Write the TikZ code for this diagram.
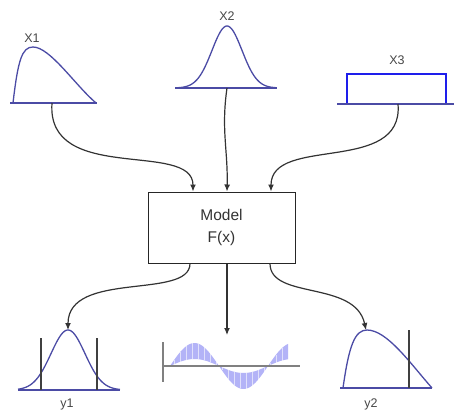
\documentclass[tikz,border=0pt]{standalone}
\usepackage{fontspec}
\setmainfont{Liberation Sans}
\usetikzlibrary{arrows.meta}
\definecolor{distblue}{RGB}{75,75,165}
\definecolor{rectblue}{RGB}{30,30,235}
\definecolor{labelgray}{RGB}{70,70,70}
\definecolor{bandblue}{RGB}{160,160,245}
\tikzset{
  dist/.style={draw=distblue, line width=1.3pt},
  base/.style={draw=distblue, line width=1.5pt},
  conn/.style={draw=black!80, line width=1.2pt, -{Latex[length=7pt,width=6pt]}},
  lbl/.style={text=labelgray, font=\fontsize{12.5}{13}\selectfont, inner sep=0pt},
  vline/.style={draw=black!75, line width=1.1pt},
}
\begin{document}
\begin{tikzpicture}[x=1pt,y=-1pt]
\useasboundingbox (0,0) rectangle (454,409);

% X1
\path[dist] (13,103) .. controls (18,60) and (22,47) .. (33,47) .. controls (50,47) and (75,85) .. (96,103);
\path[base] (10,103) -- (97,103);
\node[lbl] (lx1) at (32,38) {X1};
\coordinate (x1) at (52,103);

% X2
\path[dist] plot[domain=178:276,samples=80,smooth] (\x,{88-62*exp(-((\x-227)^2)/(2*15^2))});
\path[base] (175,88) -- (277,88);
\node[lbl] (lx2) at (227,16) {X2};
\coordinate (x2) at (227,88);

% X3
\draw[draw=rectblue, line width=1.3pt] (347,74) rectangle (446,104);
\path[base] (337,104) -- (454,104);
\node[lbl] (lx3) at (397,60) {X3};
\coordinate (x3) at (398,104);

% Model box
\node[draw=black!85, line width=1pt, minimum width=147pt, minimum height=71pt, inner sep=0pt,
  align=center, font=\fontsize{15.5}{22}\selectfont, text=black!80] (model) at (221.5,227.5) {Model\\F(x)};

% inputs
\draw[conn] (x1) .. controls (46,185) and (193,140) .. (model.north -| 193,0);
\draw[conn] (x2) .. controls (221,130) and (228,150) .. (model.north -| 227,0);
\draw[conn] (x3) .. controls (404,175) and (271,135) .. (model.north -| 271,0);

% y1
\path[dist] plot[domain=18:120,samples=80,smooth] (\x,{390-60*exp(-((\x-68)^2)/(2*17^2))});
\path[base] (18,390) -- (120,390);
\path[vline] (41,338) -- (41,390);
\path[vline] (97,338) -- (97,390);
\node[lbl] (ly1) at (67,404) {y1};
\coordinate (y1) at (68,330);

% wave plot
\coordinate (w) at (227,335);
\fill[bandblue, opacity=0.8]
  plot[domain=170:288,samples=60,smooth] (\x,{366-23*sin((\x-170)/49*180)})
  -- plot[domain=288:170,samples=60,smooth] (\x,{366-7*sin((\x-170)/49*180)}) -- cycle;
\foreach \xx in {174,180,...,286}{
  \draw[white, line width=0.4pt, opacity=0.6] (\xx,{366-23*sin((\xx-170)/49*180)}) -- (\xx,{366-7*sin((\xx-170)/49*180)});
}
\draw[gray, line width=1.2pt] (163,342) -- (163,382);
\draw[gray, line width=1.2pt] (163,366) -- (300,366);

% y2
\path[dist] (343,388) .. controls (349,345) and (355,330) .. (367,330) .. controls (387,330) and (410,363) .. (432,388);
\path[base] (340,388) -- (432,388);
\path[vline] (409,330) -- (409,388);
\node[lbl] (ly2) at (371,404) {y2};
\coordinate (y2) at (366,330);

% outputs
\draw[conn] (model.south -| 190,0) .. controls (190,300) and (68,270) .. (y1);
\draw[conn] (model.south -| w) -- (w);
\draw[conn] (model.south -| 270,0) .. controls (270,300) and (355,280) .. (y2);
\end{tikzpicture}
\end{document}
